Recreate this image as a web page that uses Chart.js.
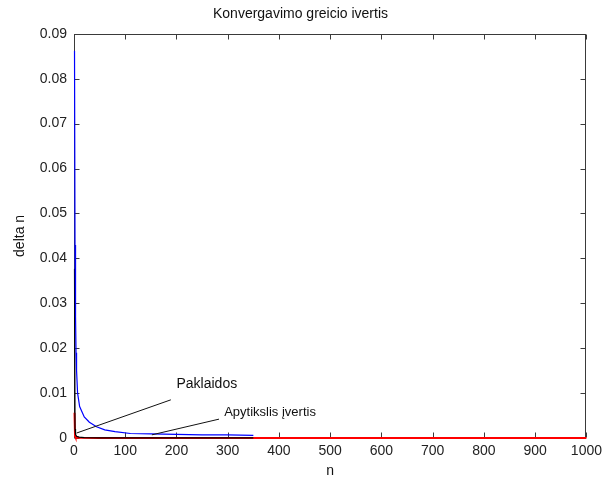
<!DOCTYPE html>
<html>
<head>
<meta charset="utf-8">
<script src="https://cdn.jsdelivr.net/npm/chart.js@4.4.1/dist/chart.umd.min.js"></script>
<style>
    html, body { margin: 0; padding: 0; background: #fff; }
    #wrap { width: 607px; height: 480px; }
</style>
</head>
<body>
<div id="wrap"><canvas id="convChart" width="607" height="480"></canvas></div>
<script>
// Konvergavimo greicio ivertis

// blue curve (n = 1 .. 350)
const blueN = [1, 2, 3, 4, 5, 7, 11, 20, 30, 44, 60, 80, 110, 150, 200, 250, 300, 350];
const blueV = [0.0862, 0.043, 0.027, 0.019, 0.015, 0.010, 0.0070, 0.0047, 0.0035, 0.0025,
               0.0018, 0.0014, 0.0010, 0.0009, 0.0008, 0.0007, 0.0007, 0.0006];

// black curve (paklaidos), drops almost straight down
const blackN = [1, 2, 3, 5, 10, 20, 50, 100, 200, 350];
const blackV = [0.0377, 0.0020, 0.0008, 0.0004, 0.0002, 0.0001, 0.00005, 0.00002, 0.00001, 0.00001];

// red curve (apytikslis ivertis), n = 1 .. 1000
const redN = [1, 2, 3, 5, 10, 50, 100, 200, 400, 600, 800, 1000];
const redV = [0.0056, 0.0005, 0.0002, 0.0001, 0.00005, 0.00002, 0.00001, 0, 0, 0, 0, 0];

// axis ticks
const xTicks = [0, 100, 200, 300, 400, 500, 600, 700, 800, 900, 1000];
const yTicks = [0, 0.01, 0.02, 0.03, 0.04, 0.05, 0.06, 0.07, 0.08, 0.09];

// text annotations: label, text anchor (n, value), leader line from -> to
const noteLabels = ['Paklaidos', 'Apytikslis įvertis'];
const noteTextN = [200, 293];
const noteTextV = [0.0121, 0.0056];
const noteFromN = [5, 152];
const noteFromV = [0.0011, 0.0007];
const noteToN = [189, 283];
const noteToV = [0.0085, 0.0042];
const noteSizes = [14, 13];

const FONT = '"Liberation Sans", Arial, sans-serif';
Chart.defaults.font.family = FONT;
Chart.defaults.font.size = 14;
Chart.defaults.color = '#222';

function toPoints(ns, vs) {
    return ns.map((n, i) => ({ x: n, y: vs[i] }));
}

// box + inward tick marks, matlab style
const matlabFrame = {
    id: 'matlabFrame',
    beforeDatasetsDraw(chart) {
        const { ctx, chartArea: a, scales: { x, y } } = chart;
        const L = Math.round(a.left) + 0.5, R = Math.round(a.right) - 0.5;
        const T = Math.round(a.top) + 0.5, B = Math.round(a.bottom) - 0.5;
        ctx.save();
        ctx.strokeStyle = '#3a3a3a';
        ctx.lineWidth = 1;
        ctx.strokeRect(L, T, R - L, B - T);
        ctx.beginPath();
        xTicks.forEach(v => {
            const px = Math.round(x.getPixelForValue(v)) + 0.5;
            ctx.moveTo(px, B); ctx.lineTo(px, B - 5);
            ctx.moveTo(px, T); ctx.lineTo(px, T + 5);
        });
        yTicks.forEach(v => {
            const py = Math.round(y.getPixelForValue(v)) + 0.5;
            ctx.moveTo(L, py); ctx.lineTo(L + 5, py);
            ctx.moveTo(R, py); ctx.lineTo(R - 5, py);
        });
        ctx.stroke();
        ctx.restore();
    },
    afterDatasetsDraw(chart) {
        const { ctx, scales: { x, y } } = chart;
        ctx.save();
        ctx.strokeStyle = '#111';
        ctx.lineWidth = 1;
        ctx.fillStyle = '#111';
        ctx.textBaseline = 'middle';
        ctx.textAlign = 'left';
        noteLabels.forEach((label, i) => {
            ctx.beginPath();
            ctx.moveTo(x.getPixelForValue(noteFromN[i]), y.getPixelForValue(noteFromV[i]));
            ctx.lineTo(x.getPixelForValue(noteToN[i]), y.getPixelForValue(noteToV[i]));
            ctx.stroke();
            ctx.font = noteSizes[i] + 'px ' + FONT;
            ctx.fillText(label, x.getPixelForValue(noteTextN[i]), y.getPixelForValue(noteTextV[i]));
        });
        ctx.restore();
    }
};

const convChart = new Chart(document.getElementById('convChart'), {
    type: 'line',
    data: {
        datasets: [
            {
                label: 'blue',
                data: toPoints(blueN, blueV),
                borderColor: '#0000ff',
                borderWidth: 1.2,
                pointRadius: 0,
                tension: 0,
                clip: false
            },
            {
                label: 'black',
                data: toPoints(blackN, blackV),
                borderColor: '#000000',
                borderWidth: 1.2,
                pointRadius: 0,
                tension: 0,
                clip: false
            },
            {
                label: 'red',
                data: toPoints(redN, redV),
                borderColor: '#ff0000',
                borderWidth: 2,
                pointRadius: 0,
                tension: 0,
                clip: false
            }
        ]
    },
    options: {
        responsive: false,
        animation: false,
        layout: { padding: { left: 12, right: 18, top: 0, bottom: 0 } },
        plugins: {
            legend: { display: false },
            tooltip: { enabled: false },
            title: {
                display: true,
                text: 'Konvergavimo greicio ivertis',
                color: '#111',
                font: { size: 14, weight: 'normal' },
                padding: { top: 6, bottom: 11 }
            }
        },
        scales: {
            x: {
                type: 'linear',
                min: 0,
                max: 1000,
                grid: { display: false, drawTicks: false },
                border: { display: false },
                ticks: { stepSize: 100, padding: 5, maxRotation: 0, callback: v => String(v) },
                title: { display: true, text: 'n', color: '#111', padding: { top: 0, bottom: 0 } },
                afterFit(scale) { scale.height = 42; }
            },
            y: {
                min: 0,
                max: 0.09,
                grid: { display: false, drawTicks: false },
                border: { display: false },
                ticks: {
                    stepSize: 0.01,
                    padding: 7,
                    callback: v => (Math.abs(v) < 1e-9 ? '0' : v.toFixed(2))
                },
                title: { display: true, text: 'delta n', color: '#111', padding: { top: 0, bottom: 0 } },
                afterFit(scale) { scale.width = 62; }
            }
        }
    },
    plugins: [matlabFrame]
});
</script>
</body>
</html>
